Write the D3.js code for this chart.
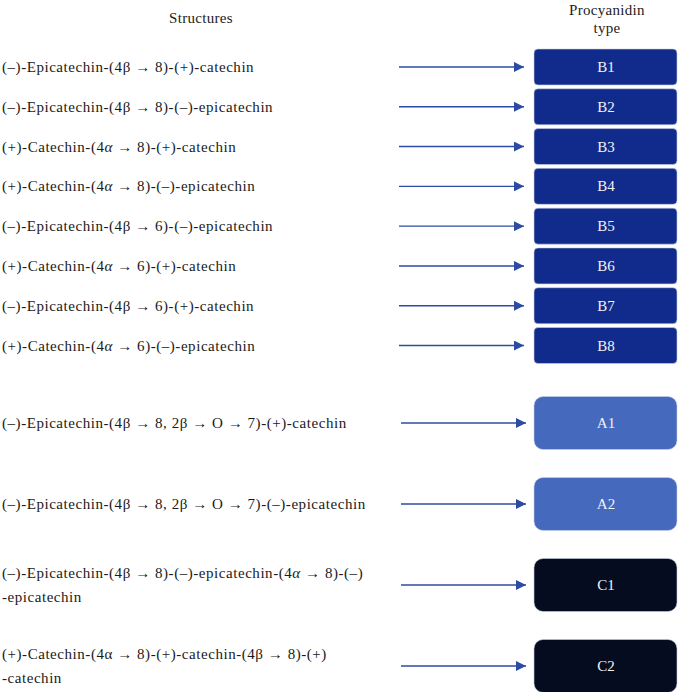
<!DOCTYPE html>
<html>
<head>
<meta charset="utf-8">
<script src="https://cdn.jsdelivr.net/npm/d3@7"></script>
<style>
  body { margin: 0; background: #fff; }
</style>
</head>
<body>
<div id="chart"></div>
<script>
// structures (each entry: list of lines; each line: list of [text, italic])
var bStructures = [
  [[["(\u2013)-Epicatechin-(4\u03B2 \u2192 8)-(+)-catechin", 0]]],
  [[["(\u2013)-Epicatechin-(4\u03B2 \u2192 8)-(\u2013)-epicatechin", 0]]],
  [[["(+)-Catechin-(4", 0], ["\u03B1", 1], [" \u2192 8)-(+)-catechin", 0]]],
  [[["(+)-Catechin-(4", 0], ["\u03B1", 1], [" \u2192 8)-(\u2013)-epicatechin", 0]]],
  [[["(\u2013)-Epicatechin-(4\u03B2 \u2192 6)-(\u2013)-epicatechin", 0]]],
  [[["(+)-Catechin-(4", 0], ["\u03B1", 1], [" \u2192 6)-(+)-catechin", 0]]],
  [[["(\u2013)-Epicatechin-(4\u03B2 \u2192 6)-(+)-catechin", 0]]],
  [[["(+)-Catechin-(4", 0], ["\u03B1", 1], [" \u2192 6)-(\u2013)-epicatechin", 0]]]
];
var bTypes = ["B1", "B2", "B3", "B4", "B5", "B6", "B7", "B8"];

var acStructures = [
  [[["(\u2013)-Epicatechin-(4\u03B2 \u2192 8, 2\u03B2 \u2192 O \u2192 7)-(+)-catechin", 0]]],
  [[["(\u2013)-Epicatechin-(4\u03B2 \u2192 8, 2\u03B2 \u2192 O \u2192 7)-(\u2013)-epicatechin", 0]]],
  [[["(\u2013)-Epicatechin-(4\u03B2 \u2192 8)-(\u2013)-epicatechin-(4", 0], ["\u03B1", 1], [" \u2192 8)-(\u2013)", 0]],
   [["-epicatechin", 0]]],
  [[["(+)-Catechin-(4\u03B1 \u2192 8)-(+)-catechin-(4\u03B2 \u2192 8)-(+)", 0]],
   [["-catechin", 0]]]
];
var acTypes = ["A1", "A2", "C1", "C2"];

var colB = "#112b8c", colA = "#4569bd", colC = "#050c20", colArrow = "#2c4ca3";
var serif = "'Liberation Serif', 'DejaVu Serif', 'Times New Roman', Times, serif";

var width = 678, height = 692;
var svg = d3.select("#chart").append("svg")
  .attr("width", width).attr("height", height)
  .attr("font-family", serif)
  .style("font-family", serif);

svg.append("defs").append("marker")
  .attr("id", "head")
  .attr("viewBox", "0 0 10 10")
  .attr("refX", 10).attr("refY", 5)
  .attr("markerWidth", 10).attr("markerHeight", 10)
  .attr("markerUnits", "userSpaceOnUse")
  .attr("orient", "auto")
  .append("path").attr("d", "M0,0 L10,5 L0,10 Z").attr("fill", colArrow);

// headers
svg.append("text").attr("x", 201).attr("y", 23).attr("text-anchor", "middle")
  .attr("font-size", 15).attr("letter-spacing", 0.3).attr("fill", "#222").text("Structures");
var hdr = svg.append("text").attr("x", 607).attr("text-anchor", "middle")
  .attr("font-size", 15).attr("letter-spacing", 0.3).attr("fill", "#222");
hdr.append("tspan").attr("x", 607).attr("y", 15).text("Procyanidin");
hdr.append("tspan").attr("x", 607).attr("y", 33).text("type");

var yB = d3.scaleLinear().domain([0, 7]).range([67, 345.5]);
var yAC = d3.scaleLinear().domain([0, 3]).range([423, 666]);

function drawGroup(structs, types, y, boxH, rx, colorOf, arrowX0, arrowX1) {
  var g = svg.append("g").selectAll("g").data(structs).enter().append("g")
    .attr("transform", function(d, i) { return "translate(0," + y(i) + ")"; });

  g.each(function(lines, i) {
    var t = d3.select(this).append("text")
      .attr("font-size", 15).attr("letter-spacing", 0.55).attr("fill", "#1a1a1a");
    var n = lines.length;
    lines.forEach(function(parts, li) {
      parts.forEach(function(p, pi) {
        var ts = t.append("tspan").text(p[0]);
        if (pi === 0) ts.attr("x", 2).attr("y", 5 + (li - (n - 1) / 2) * 24);
        if (p[1]) ts.attr("font-style", "italic");
      });
    });
  });

  g.append("line")
    .attr("x1", arrowX0).attr("x2", arrowX1).attr("y1", 0).attr("y2", 0)
    .attr("stroke", colArrow).attr("stroke-width", 1.4)
    .attr("marker-end", "url(#head)");

  g.append("rect")
    .attr("x", 534).attr("y", -boxH / 2).attr("width", 143).attr("height", boxH)
    .attr("rx", rx).attr("ry", rx)
    .attr("fill", function(d, i) { return colorOf(types[i]); })
    .attr("stroke", "#c9d0e6").attr("stroke-width", 0.6);

  g.append("text")
    .attr("x", 606).attr("y", 5).attr("text-anchor", "middle")
    .attr("font-size", 15).attr("fill", "#f2f2f2")
    .text(function(d, i) { return types[i]; });
}

drawGroup(bStructures, bTypes, yB, 36, 4, function() { return colB; }, 399, 524);
drawGroup(acStructures, acTypes, yAC, 53, 9,
  function(t) { return t[0] === "A" ? colA : colC; }, 401, 526);
</script>
</body>
</html>
